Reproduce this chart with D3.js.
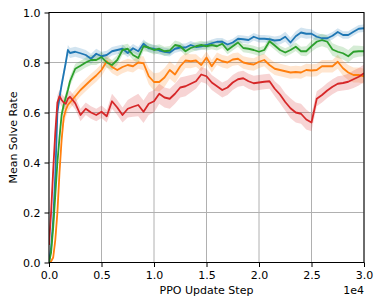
<!DOCTYPE html>
<html>
<head>
<meta charset="utf-8">
<script src="https://cdn.jsdelivr.net/npm/d3@7"></script>
<style>
  body { margin: 0; background: #fff; }
  svg { display: block; font-family: "DejaVu Sans", sans-serif; }
  .tick text { font-size: 11px; fill: #000; }
  .grid line { stroke: #b0b0b0; stroke-width: 1; }
</style>
</head>
<body>
<svg id="svg" width="381" height="305"></svg>
<script>
    // x in units of 1e4 PPO update steps
    var steps = [0, 0.02, 0.04, 0.06, 0.08, 0.10, 0.12, 0.14, 0.16, 0.18, 0.20,
        0.25, 0.30, 0.35, 0.40, 0.45, 0.50, 0.55, 0.60, 0.65, 0.70, 0.75, 0.80, 0.85, 0.90, 0.95,
        1.00, 1.05, 1.10, 1.15, 1.20, 1.25, 1.30, 1.35, 1.40, 1.45, 1.50, 1.55, 1.60, 1.65, 1.70,
        1.75, 1.80, 1.85, 1.90, 1.95, 2.00, 2.05, 2.10, 2.15, 2.20, 2.25, 2.30, 2.35, 2.40, 2.45,
        2.50, 2.55, 2.60, 2.65, 2.70, 2.75, 2.80, 2.85, 2.90, 2.95, 3.00];

    var blueMean = [0, 0.06, 0.17, 0.35, 0.60, 0.66, 0.71, 0.755, 0.80, 0.85, 0.838,
        0.843, 0.837, 0.83, 0.815, 0.835, 0.825, 0.83, 0.845, 0.85, 0.855, 0.838, 0.857, 0.845, 0.875, 0.857,
        0.855, 0.848, 0.843, 0.84, 0.855, 0.86, 0.86, 0.87, 0.862, 0.865, 0.87, 0.877, 0.883, 0.883, 0.872,
        0.88, 0.895, 0.893, 0.89, 0.903, 0.895, 0.895, 0.893, 0.888, 0.89, 0.903, 0.88, 0.905, 0.92, 0.915,
        0.915, 0.903, 0.897, 0.897, 0.907, 0.922, 0.91, 0.91, 0.923, 0.935, 0.937];
    var blueBand = [0.01, 0.01, 0.015, 0.02, 0.02, 0.02, 0.02, 0.02, 0.02, 0.02, 0.02,
        0.02, 0.02, 0.02, 0.02, 0.02, 0.018, 0.017, 0.017, 0.017, 0.017, 0.017, 0.017, 0.017, 0.017, 0.017,
        0.016, 0.016, 0.016, 0.016, 0.016, 0.016, 0.016, 0.016, 0.015, 0.015, 0.015, 0.015, 0.015, 0.015, 0.015,
        0.015, 0.015, 0.015, 0.015, 0.015, 0.015, 0.015, 0.015, 0.016, 0.018, 0.02, 0.02, 0.02, 0.02, 0.02,
        0.018, 0.016, 0.015, 0.015, 0.015, 0.015, 0.015, 0.015, 0.015, 0.015, 0.015];

    var orangeMean = [0, 0.005, 0.02, 0.09, 0.20, 0.36, 0.49, 0.58, 0.61, 0.63, 0.64,
        0.665, 0.69, 0.71, 0.73, 0.748, 0.77, 0.805, 0.782, 0.77, 0.782, 0.79, 0.785, 0.8, 0.797, 0.745,
        0.722, 0.722, 0.74, 0.77, 0.752, 0.785, 0.808, 0.805, 0.808, 0.79, 0.82, 0.785, 0.815, 0.805, 0.8,
        0.812, 0.815, 0.8, 0.795, 0.792, 0.803, 0.81, 0.79, 0.775, 0.77, 0.765, 0.76, 0.762, 0.76, 0.77,
        0.768, 0.77, 0.785, 0.785, 0.785, 0.803, 0.777, 0.76, 0.75, 0.75, 0.745];
    var orangeBand = [0.005, 0.005, 0.01, 0.02, 0.03, 0.03, 0.03, 0.03, 0.03, 0.025, 0.025,
        0.025, 0.025, 0.025, 0.025, 0.025, 0.025, 0.025, 0.025, 0.025, 0.025, 0.025, 0.025, 0.025, 0.028, 0.032,
        0.035, 0.038, 0.038, 0.035, 0.035, 0.035, 0.03, 0.028, 0.025, 0.025, 0.025, 0.025, 0.025, 0.025, 0.025,
        0.025, 0.025, 0.025, 0.025, 0.025, 0.025, 0.025, 0.025, 0.025, 0.025, 0.025, 0.025, 0.025, 0.025, 0.025,
        0.025, 0.025, 0.025, 0.025, 0.025, 0.028, 0.03, 0.03, 0.03, 0.03, 0.03];

    var greenMean = [0, 0.04, 0.14, 0.27, 0.40, 0.50, 0.59, 0.63, 0.66, 0.69, 0.725,
        0.775, 0.787, 0.8, 0.81, 0.81, 0.822, 0.8, 0.79, 0.81, 0.85, 0.855, 0.83, 0.818, 0.865, 0.86,
        0.85, 0.855, 0.845, 0.848, 0.87, 0.865, 0.845, 0.858, 0.865, 0.87, 0.865, 0.87, 0.865, 0.875, 0.85,
        0.865, 0.88, 0.858, 0.855, 0.85, 0.843, 0.85, 0.885, 0.868, 0.85, 0.84, 0.85, 0.863, 0.845, 0.845,
        0.865, 0.883, 0.89, 0.883, 0.852, 0.843, 0.837, 0.825, 0.843, 0.845, 0.845];
    var greenBand = [0.01, 0.01, 0.02, 0.02, 0.02, 0.02, 0.02, 0.02, 0.02, 0.02, 0.02,
        0.02, 0.02, 0.02, 0.02, 0.02, 0.02, 0.02, 0.02, 0.02, 0.02, 0.02, 0.02, 0.02, 0.02, 0.018,
        0.018, 0.018, 0.018, 0.018, 0.018, 0.017, 0.017, 0.017, 0.017, 0.017, 0.017, 0.017, 0.017, 0.017, 0.017,
        0.017, 0.017, 0.017, 0.017, 0.017, 0.017, 0.017, 0.017, 0.017, 0.017, 0.017, 0.017, 0.017, 0.018, 0.02,
        0.022, 0.025, 0.025, 0.025, 0.025, 0.025, 0.025, 0.025, 0.025, 0.022, 0.02];

    var redMean = [0.07, 0.20, 0.37, 0.52, 0.64, 0.665, 0.65, 0.64, 0.635, 0.655, 0.663,
        0.637, 0.59, 0.615, 0.6, 0.59, 0.603, 0.585, 0.645, 0.62, 0.59, 0.615, 0.623, 0.63, 0.603, 0.635,
        0.645, 0.675, 0.66, 0.655, 0.675, 0.7, 0.705, 0.715, 0.725, 0.752, 0.745, 0.72, 0.705, 0.69, 0.7,
        0.72, 0.733, 0.737, 0.725, 0.717, 0.72, 0.723, 0.725, 0.695, 0.672, 0.642, 0.617, 0.6, 0.595, 0.572,
        0.56, 0.655, 0.67, 0.688, 0.703, 0.715, 0.718, 0.723, 0.733, 0.743, 0.757];
    var redBand = [0.02, 0.03, 0.03, 0.03, 0.03, 0.025, 0.025, 0.025, 0.025, 0.025, 0.025,
        0.025, 0.025, 0.025, 0.025, 0.025, 0.025, 0.025, 0.03, 0.03, 0.03, 0.035, 0.04, 0.045, 0.045, 0.045,
        0.045, 0.04, 0.04, 0.04, 0.04, 0.04, 0.04, 0.035, 0.03, 0.03, 0.03, 0.03, 0.03, 0.03, 0.03,
        0.03, 0.03, 0.03, 0.03, 0.03, 0.03, 0.03, 0.03, 0.03, 0.035, 0.035, 0.04, 0.04, 0.04, 0.04,
        0.035, 0.03, 0.03, 0.03, 0.03, 0.03, 0.03, 0.032, 0.035, 0.035, 0.035];

    var xTicks = [0, 0.5, 1.0, 1.5, 2.0, 2.5, 3.0];
    var yTicks = [0, 0.2, 0.4, 0.6, 0.8, 1.0];

    var series = [
        {name: 'blue', color: '#1f77b4', mean: blueMean, band: blueBand},
        {name: 'orange', color: '#ff7f0e', mean: orangeMean, band: orangeBand},
        {name: 'green', color: '#2ca02c', mean: greenMean, band: greenBand},
        {name: 'red', color: '#d62728', mean: redMean, band: redBand}
    ];

    var svg = d3.select("#svg");
    // plot box (note: "top" is reserved on window, so use prefixed names)
    var pLeft = 49, pRight = 364, pTop = 12.5, pBottom = 262.5;

    var x = d3.scaleLinear().domain([0, 3.0]).range([pLeft, pRight]);
    var y = d3.scaleLinear().domain([0, 1.0]).range([pBottom, pTop]);
    var fmt = d3.format(".1f");

    // grid
    var grid = svg.append("g").attr("class", "grid");
    grid.selectAll(".gx").data(xTicks).enter().append("line")
        .attr("x1", function (d) { return x(d); })
        .attr("x2", function (d) { return x(d); })
        .attr("y1", pTop).attr("y2", pBottom);
    grid.selectAll(".gy").data(yTicks).enter().append("line")
        .attr("y1", function (d) { return y(d); })
        .attr("y2", function (d) { return y(d); })
        .attr("x1", pLeft).attr("x2", pRight);

    svg.append("clipPath").attr("id", "plot-clip")
        .append("rect")
        .attr("x", pLeft).attr("y", pTop)
        .attr("width", pRight - pLeft).attr("height", pBottom - pTop);

    var plot = svg.append("g").attr("clip-path", "url(#plot-clip)");

    series.forEach(function (s) {
        var pts = steps.map(function (t, i) {
            return {t: t, m: s.mean[i], b: s.band[i]};
        });
        var area = d3.area()
            .x(function (d) { return x(d.t); })
            .y0(function (d) { return y(d.m - d.b); })
            .y1(function (d) { return y(d.m + d.b); });
        plot.append("path")
            .attr("d", area(pts))
            .attr("fill", s.color)
            .attr("fill-opacity", 0.2)
            .attr("stroke", "none");
    });
    series.forEach(function (s) {
        var pts = steps.map(function (t, i) {
            return {t: t, m: s.mean[i]};
        });
        var line = d3.line()
            .x(function (d) { return x(d.t); })
            .y(function (d) { return y(d.m); });
        plot.append("path")
            .attr("d", line(pts))
            .attr("fill", "none")
            .attr("stroke", s.color)
            .attr("stroke-width", 1.8)
            .attr("stroke-linejoin", "round");
    });

    // axes
    var xAxis = svg.append("g")
        .attr("transform", "translate(0," + pBottom + ")")
        .call(d3.axisBottom(x).tickValues(xTicks).tickFormat(fmt)
            .tickSize(4.5).tickPadding(4.5).tickSizeOuter(0));
    var yAxis = svg.append("g")
        .attr("transform", "translate(" + pLeft + ",0)")
        .call(d3.axisLeft(y).tickValues(yTicks).tickFormat(fmt)
            .tickSize(4.5).tickPadding(4).tickSizeOuter(0));
    xAxis.select(".domain").remove();
    yAxis.select(".domain").remove();
    svg.selectAll(".tick line").attr("stroke", "#000").attr("stroke-width", 1);
    svg.selectAll(".tick text").attr("font-family", "DejaVu Sans").attr("font-size", 11);

    // frame
    svg.append("rect")
        .attr("x", pLeft).attr("y", pTop)
        .attr("width", pRight - pLeft).attr("height", pBottom - pTop)
        .attr("fill", "none")
        .attr("stroke", "#000")
        .attr("stroke-width", 1);

    svg.append("text")
        .attr("x", (pLeft + pRight) / 2).attr("y", 294)
        .attr("text-anchor", "middle")
        .attr("font-size", 11)
        .text("PPO Update Step");
    svg.append("text")
        .attr("x", pRight).attr("y", 294)
        .attr("text-anchor", "end")
        .attr("font-size", 11)
        .text("1e4");
    svg.append("text")
        .attr("transform", "translate(16.5," + (pTop + pBottom) / 2 + ") rotate(-90)")
        .attr("text-anchor", "middle")
        .attr("font-size", 11)
        .text("Mean Solve Rate");
</script>
</body>
</html>
